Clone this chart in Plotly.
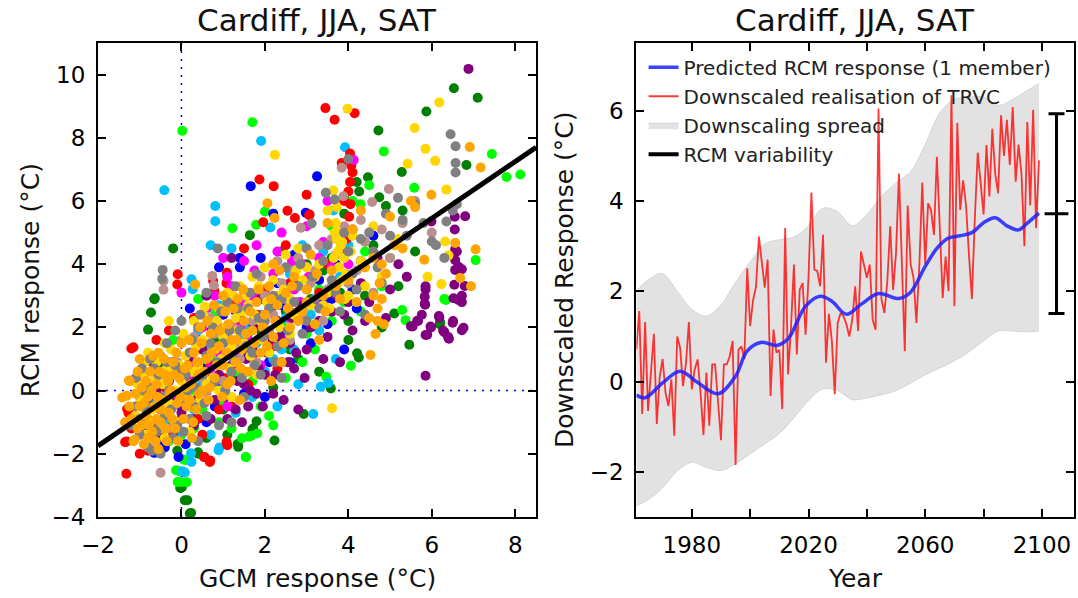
import plotly.graph_objects as go

# ---------------- left panel: GCM vs RCM response (one list of points per model) ----------------
orange_pts = [(-1.42,-0.22),(-1.31,-0.16),(-1.24,0.30),(-1.26,0.32),(-1.12,-1.55),(-1.15,-1.6),(-1.2,-0.9),(-1.05,-1.2),
    (-1.0,-0.5),(-0.95,0.1),(-0.9,-1.7),(-0.85,-0.8),(-0.8,-0.2),(-0.75,0.6),(-0.7,-1.3),(-0.65,-0.5),(-0.6,0.2),(-0.55,1.2),
    (-0.5,-1.0),(-0.45,-0.3),(-0.4,0.5),(-0.35,-1.6),(-0.3,-0.7),(-0.25,0.0),(-0.2,0.9),(-0.15,-1.2),(-0.1,-0.4),(-0.05,0.4),
    (0.0,1.5),(0.05,-0.9),(0.1,0.1),(0.15,0.8),(0.2,-0.3),(0.3,1.2),(0.35,-0.6),(0.4,0.5),(0.45,2.0),(0.5,0.0),(0.6,1.0),
    (0.65,-0.3),(0.7,1.8),(0.8,0.4),(0.9,1.4),(1.0,0.8),(1.05,2.5),(1.1,0.2),(1.2,1.6),(1.3,0.9),(1.35,2.9),(1.45,1.3),
    (1.5,2.2),(1.6,0.6),(1.7,1.9),(1.8,2.8),(1.9,1.2),(2.0,2.4),(2.1,3.3),(2.2,1.7),(2.3,2.7),(2.4,0.9),(2.5,3.1),(2.6,2.0),
    (2.7,3.6),(2.9,2.5),(3.0,3.2),(3.2,2.1),(3.4,3.0),(3.6,3.8),(3.8,2.9),(4.0,3.5),(4.2,2.8),(4.4,3.9),(4.5,2.3),(4.53,1.13),
    (4.65,1.79),(4.6,3.0),(4.7,2.6),(4.75,3.4),(4.8,4.0),(4.85,2.1),(4.9,3.7),(5.0,5.5),(5.1,4.6),(5.3,4.5),(5.5,6.0),(5.6,5.8),
    (5.82,4.14),(5.99,6.2),(6.56,4.67),(6.68,3.56),(6.94,3.3),(6.91,7.71),(7.05,4.47),(7.17,7.06),(2.06,5.93),(2.23,5.46),
    (0.33,3.36),(-0.55,-1.85),(0.25,-1.5),(1.4,-0.3),(2.15,0.3),(3.3,1.6),(4.1,5.1),(4.3,5.7),(2.2,4.0),(3.1,4.3),(3.5,5.3),
    (1.0,3.0),(-1.0,1.0),(-0.8,-1.5),(-0.6,-0.9),
    (-1.35,-1.0),(-1.25,-0.5),(-1.1,-0.1),(-1.05,0.6),(-0.95,-1.1),(-0.9,-0.4),(-0.85,0.3),(-0.78,-1.1),(-0.72,0.0),
    (-0.68,1.1),(-0.62,-1.6),(-0.58,-0.2),(-0.52,0.6),(-0.48,-0.6),(-0.42,1.0),(-0.38,-1.2),(-0.32,0.3),(-0.28,-0.1),
    (-0.22,-0.9),(-0.18,0.5),(-0.12,1.2),(-0.08,-1.6),(-0.02,-0.2),(0.08,0.7),(0.12,-0.5),(0.18,1.6),(0.22,0.2),(0.28,-1.0),
    (0.38,0.9),(0.42,-0.1),(0.48,1.5),(0.55,0.6),(0.62,2.2),(0.68,0.1),(0.72,1.2),(0.78,2.7),(0.85,0.8),(0.92,1.9),(0.98,-0.2),
    (1.08,1.2),(1.12,2.1),(1.18,0.3),(1.25,2.6),(1.32,1.6),(1.42,0.7),(1.48,3.2),(1.55,1.8),(1.65,2.5),(1.75,1.5),(1.85,3.2),
    (1.95,2.0),(2.05,1.4),(2.15,2.9),(2.25,2.2),(2.35,3.8),(2.45,1.5),(2.55,2.6),(2.65,3.3),(2.8,2.2),(3.0,2.8),(3.25,3.7),
    (3.45,2.5),(3.7,3.3),(4.6,4.2),(4.7,2.2),(4.8,2.9)]
gold_pts = [(-1.0,-0.4),(-0.9,0.5),(-0.85,-1.4),(-0.8,1.2),(-0.7,-0.6),(-0.6,0.9),(-0.5,-1.2),(-0.45,0.2),(-0.4,1.5),
    (-0.3,-0.4),(-0.2,0.6),(-0.1,-1.0),(0.0,0.3),(0.1,1.1),(0.2,-0.5),(0.3,2.2),(0.4,0.8),(0.5,1.6),(0.56,2.65),(0.6,0.2),
    (0.7,2.1),(0.8,1.3),(0.9,2.6),(1.0,1.7),(1.1,3.1),(1.15,0.7),(1.3,2.3),(1.4,3.3),(1.5,1.5),(1.6,2.7),(1.7,3.6),(1.9,2.2),
    (2.0,3.9),(2.1,1.2),(2.24,7.46),(2.3,3.0),(2.5,4.3),(2.7,2.4),(2.9,3.5),(3.1,2.7),(3.3,4.0),(3.5,3.1),(3.61,-0.56),
    (3.64,6.33),(3.7,5.3),(3.72,4.8),(3.75,4.4),(3.78,3.9),(3.8,5.0),(3.82,4.6),(3.85,3.5),(3.9,4.2),(3.92,2.9),(3.98,8.92),
    (4.0,3.0),(4.1,4.9),(4.3,4.1),(4.6,5.2),(4.8,3.6),(5.42,7.18),(5.59,8.31),(5.85,7.65),(6.08,7.27),(6.18,9.12),(6.35,6.36),
    (6.32,4.72),(6.23,3.37),(5.9,3.6),(6.4,4.28),(5.2,4.8),(3.5,5.7),(3.55,2.6),(4.4,3.3),(1.2,-0.2),(0.2,-1.3),(-0.3,2.2),
    (2.6,1.8),(1.8,0.5),(3.2,3.6),(2.8,4.5),
    (-1.1,-0.8),(-1.05,0.2),(-0.95,-0.3),(-0.88,0.9),(-0.75,-1.0),(-0.65,0.3),(-0.55,1.0),(-0.52,-0.4),(-0.4,-1.5),
    (-0.35,0.7),(-0.25,1.3),(-0.15,0.0),(-0.05,0.8),(0.05,1.8),(0.15,-0.2),(0.25,0.6),(0.35,1.4),(0.45,-0.3),(0.52,2.4),
    (0.65,1.1),(0.75,0.4),(0.85,2.2),(0.95,1.0),(1.05,2.0),(1.1,2.8),(1.2,1.4),(1.25,3.0),(1.35,1.9),(1.45,2.5),(1.55,3.0),
    (1.65,1.1),(1.75,2.4),(1.85,3.3),(1.95,1.6),(2.05,2.8),(2.2,3.5),(2.35,2.0),(2.45,3.2),(2.6,2.9),(2.75,3.8),(3.0,3.9),
    (3.4,2.7),(3.65,4.2),(3.75,3.4),(3.85,4.7),(3.95,3.7),(4.05,4.4),(3.68,5.0),(3.72,5.8),(0.9,0.0)]
gray_pts = [(-1.0,-0.9),(-0.9,0.0),(-0.8,-1.8),(-0.75,1.0),(-0.7,-0.5),(-0.6,-1.3),(-0.55,0.5),(-0.46,3.54),(-0.45,3.82),
    (-0.4,-0.8),(-0.35,1.5),(-0.3,0.0),(-0.2,-1.5),(-0.15,0.8),(-0.05,-0.3),(0.0,2.2),(0.1,0.5),(0.2,-0.9),(0.25,1.6),
    (0.35,0.1),(0.45,2.4),(0.55,-0.4),(0.6,1.1),(0.75,2.0),(0.8,0.3),(0.87,4.5),(0.9,-1.1),(1.0,1.5),(1.1,2.8),(1.2,0.6),
    (1.3,3.3),(1.4,1.9),(1.5,-0.2),(1.6,2.6),(1.7,1.2),(1.8,3.7),(1.9,0.5),(2.0,2.2),(2.2,3.0),(2.3,1.4),(2.5,3.9),(2.6,2.5),
    (2.8,3.3),(2.9,1.8),(3.0,4.5),(3.12,5.29),(3.2,2.9),(3.4,4.1),(3.46,6.26),(3.6,3.5),(3.67,6.05),(3.8,2.5),(4.0,7.33),
    (4.0,4.4),(4.2,3.2),(4.5,5.0),(4.7,3.9),(4.9,5.6),(5.19,6.1),(5.4,4.9),(5.6,5.9),(6.0,4.72),(6.1,4.6),(6.35,5.35),
    (6.45,8.11),(6.57,7.73),(6.57,7.2),(6.57,6.9),(6.3,4.2),(6.5,5.7),(6.6,5.9),(5.8,5.3),(4.4,2.4),(-0.5,-2.0),(0.4,-1.6),
    (1.2,-1.0),(2.4,0.4),(-1.1,-0.5),(0.6,3.1),
    (-1.2,-1.1),(-1.1,0.4),(-1.0,-1.4),(-0.95,0.7),(-0.85,-0.6),(-0.75,0.1),(-0.7,-1.9),(-0.65,0.7),(-0.55,-1.0),
    (-0.45,-0.2),(-0.35,0.9),(-0.25,-0.6),(-0.15,1.9),(-0.1,-1.1),(0.0,0.6),(0.05,-1.3),(0.15,0.0),(0.2,1.2),(0.3,-0.5),
    (0.4,2.0),(0.5,0.5),(0.6,-0.8),(0.7,1.5),(0.85,0.9),(0.95,2.5),(1.05,0.0),(1.15,1.9),(1.25,1.0),(1.35,2.6),(1.45,0.4),
    (1.55,1.4),(1.65,3.1),(1.75,0.8),(1.85,2.3),(1.95,1.7),(2.1,2.6),(2.25,0.9),(2.4,2.9),(2.55,1.9),(2.7,2.8),(2.85,4.0),
    (3.0,2.2),(3.15,3.6),(3.3,2.6),(3.5,4.6),(3.7,3.1),(3.9,5.0),(4.1,3.7),(4.3,4.8),(4.6,4.4),(4.8,3.4),(5.0,4.9),(5.3,5.4)]
purple_pts = [(-0.5,-1.4),(-0.3,0.3),(0.0,-0.7),(0.2,1.0),(0.4,-0.2),(0.6,0.6),(0.8,-0.3),(1.0,1.9),(1.1,-0.9),(1.2,0.8),
    (1.3,-0.6),(1.4,2.3),(1.5,0.2),(1.6,-0.5),(1.7,1.3),(1.8,-0.1),(1.9,2.9),(2.0,0.5),(2.1,1.6),(2.2,-0.1),(2.3,2.2),
    (2.4,0.9),(2.5,3.3),(2.6,1.5),(2.7,0.7),(2.9,2.7),(3.0,1.3),(3.2,3.6),(3.3,2.2),(3.5,1.7),(3.7,3.0),(3.8,0.9),(3.9,2.4),
    (4.1,1.9),(4.3,3.4),(4.5,2.8),(4.7,4.2),(5.5,2.04),(5.54,2.03),(5.65,2.21),(5.67,2.2),(5.76,2.4),(5.83,2.75),(5.83,2.97),
    (5.84,2.72),(5.85,3.3),(5.85,3.2),(5.85,1.76),(5.85,0.47),(5.89,1.77),(5.97,2.03),(5.98,2.0),(5.99,5.35),(6.17,2.36),
    (6.18,2.31),(6.27,1.9),(6.3,1.85),(6.39,1.7),(6.41,1.64),(6.5,2.15),(6.51,2.2),(6.52,2.92),(6.54,3.35),(6.55,5.5),
    (6.55,5.1),(6.56,4.47),(6.56,4.13),(6.56,3.82),(6.6,4.4),(6.64,3.92),(6.64,2.87),(6.72,3.84),(6.72,3.0),(6.72,2.8),
    (6.72,1.91),(6.76,1.99),(6.79,3.31),(6.8,5.52),(6.88,10.18),(5.2,4.0),(4.9,2.3),(1.2,4.2),(0.6,3.0),(2.8,-0.6),
    (-0.8,-1.0),(-0.6,0.0),(-0.2,-0.4),(0.1,0.2),(0.3,-1.1),(0.5,1.3),(0.7,-0.9),(0.9,0.5),(1.05,-0.2),(1.15,1.5),(1.35,0.3),
    (1.45,-1.0),(1.55,1.0),(1.65,0.0),(1.75,2.0),(1.85,0.7),(1.95,-0.5),(2.05,1.2),(2.15,2.6),(2.25,0.5),(2.35,1.7),
    (2.45,-0.3),(2.55,0.9),(2.65,2.3),(2.75,1.2),(2.95,0.4),(3.1,2.0),(3.4,1.0),(3.6,2.5),(4.0,2.8),(4.4,2.2),(5.0,3.2),
    (5.4,3.6)]
lime_pts = [(0.02,8.22),(1.70,8.49),(2.0,5.67),(1.79,5.25),(1.22,5.14),(4.85,7.57),(7.44,7.49),(7.79,6.76),(8.12,6.84),
    (5.58,6.42),(4.5,6.5),(4.29,5.9),(-0.13,-2.52),(-0.09,-2.89),(0.0,-2.89),(0.13,-2.9),(-0.05,-2.55),(0.1,-2.2),(0.05,-2.18),
    (1.54,-2.1),(1.55,-2.11),(1.45,-1.51),(1.62,-1.46),(1.82,-1.36),(1.67,-1.43),(3.47,0.44),(4.06,0.79),(5.29,2.55),
    (5.37,2.23),(6.3,2.9),(6.34,2.87),(7.05,4.13),(0.3,-1.2),(0.6,0.8),(1.0,-0.4),(-0.6,-1.1),(-0.2,1.6),(0.8,2.5),(1.3,1.0),
    (2.1,-0.8),(2.4,2.1),(2.7,3.9),(3.2,1.3),(3.9,2.8),(4.4,4.4),(1.1,3.6),(0.4,2.9),(-0.4,0.6),(2.9,0.9),(3.6,5.2),(4.1,6.0),
    (2.2,-1.1),(1.7,0.3),(0.9,-1.0),
    (-0.3,-1.6),(0.0,-1.4),(0.2,0.0),(0.5,-0.6),(0.7,1.1),(0.9,0.2),(1.2,-1.2),(1.4,0.5),(1.6,1.8),(1.9,-0.5),(2.2,1.4),
    (2.5,0.4),(2.8,2.8),(3.0,1.8),(3.3,3.2),(3.6,2.2),(4.0,3.6),(4.3,2.5),(4.8,3.3),(5.0,4.2)]
darkgreen_pts = [(-0.2,4.5),(-0.64,2.92),(-0.65,2.89),(-0.73,2.47),(-0.8,1.93),(1.64,4.92),(4.72,8.23),(5.87,8.83),
    (6.53,9.57),(7.1,9.27),(6.83,7.14),(5.28,6.92),(4.47,6.75),(4.2,6.6),(4.26,6.3),(4.74,6.12),(4.9,5.84),(5.46,1.45),
    (4.21,1.18),(4.25,1.05),(6.2,2.15),(6.19,2.1),(5.1,2.44),(2.93,-0.74),(3.58,0.07),(2.23,-1.58),(1.8,-0.97),(1.7,-1.23),
    (1.72,-1.2),(1.35,-1.69),(1.36,-1.78),(0.4,-2.0),(0.4,-1.95),(0.01,-3.06),(-0.03,-3.08),(0.14,-3.47),(0.08,-3.47),
    (0.2,-3.89),(0.23,-3.87),(3.9,5.6),(3.95,6.0),(3.4,3.8),(2.6,1.3),(1.2,0.4),(0.5,1.3),(-0.3,-0.9),(2.0,2.9),(3.0,4.0),
    (3.8,3.1),(4.6,4.6),(5.3,5.7),(2.4,4.4),(1.0,-0.6),(4.0,2.2),
    (-0.5,0.8),(-0.1,-1.9),(0.3,0.4),(0.6,-1.5),(0.8,1.6),(1.1,-1.4),(1.3,2.0),(1.5,0.6),(1.9,1.9),(2.2,0.1),(2.5,2.5),
    (2.8,1.0),(3.1,2.9),(3.3,0.6),(3.6,4.2),(4.0,1.6),(4.4,3.0),(4.8,2.0),(5.2,3.3),(5.6,4.4)]
red_pts = [(-1.32,-2.63),(-1.35,-1.63),(-1.31,-1.61),(-1.3,-0.58),(-1.27,-0.7),(-1.2,1.33),(-1.15,1.37),(-1.14,0.32),
    (-1.09,0.32),(-1.29,-0.58),(-0.9,-0.3),(-0.7,0.9),(-0.5,-0.6),(-0.3,1.9),(-0.1,3.36),(-0.09,3.68),(0.2,1.2),(0.4,-0.9),
    (0.54,-2.1),(0.55,-2.1),(0.68,-2.26),(0.69,-2.21),(0.76,3.47),(0.79,3.15),(1.08,3.4),(1.09,3.73),(1.08,-1.63),(1.1,-1.73),
    (1.0,0.4),(1.4,2.2),(1.87,6.68),(2.21,6.47),(1.96,5.33),(2.54,5.69),(2.72,5.46),(3.07,5.57),(3.06,5.55),(3.45,8.94),
    (3.67,8.57),(4.15,8.78),(4.04,7.5),(3.84,7.2),(4.07,7.12),(4.1,6.9),(4.04,6.6),(4.0,6.3),(4.05,5.9),(4.02,5.5),(4.1,5.1),
    (3.95,4.8),(2.0,3.2),(2.5,4.6),(2.8,2.5),(3.3,3.1),(1.7,1.1),(2.3,0.7),(0.0,-0.9),(-0.8,-1.9),(1.5,4.5),(3.0,6.2),
    (-1.2,-1.2),(-1.0,-2.0),(-0.95,0.6),(-0.7,-1.0),(-0.6,1.6),(-0.4,0.1),(-0.2,-1.4),(0.1,-0.2),(0.3,2.3),(0.5,-1.4),
    (0.7,0.8),(0.9,-0.6),(1.2,-0.5),(1.3,2.8),(1.6,0.2),(1.8,2.4),(2.2,1.4),(2.6,3.4),(3.5,4.0),(3.9,6.0)]
blue_pts = [(1.66,6.47),(3.25,6.78),(2.98,5.63),(-0.65,-1.97),(-0.07,-2.1),(-0.5,-1.6),(0.1,-1.7),(0.3,-0.9),(0.5,0.7),
    (0.8,-0.5),(1.0,2.4),(1.2,1.2),(1.4,3.9),(1.5,-0.1),(1.7,2.0),(1.9,4.2),(2.1,0.9),(2.3,3.4),(2.5,1.8),(2.7,4.3),(2.9,2.6),
    (3.1,1.5),(3.3,3.5),(3.5,2.1),(3.7,4.0),(3.9,1.3),(4.1,3.2),(4.3,4.1),(4.6,4.9),(2.2,5.6),(0.9,3.9),(1.4,4.2),(-0.3,0.4),
    (0.2,2.6),(2.0,-0.2),(1.1,1.6),(3.6,2.9),
    (-0.9,-1.2),(-0.7,-0.3),(-0.4,-1.8),(-0.2,0.9),(0.0,-0.5),(0.4,1.6),(0.6,-1.0),(0.7,2.0),(0.9,0.3),(1.1,3.0),(1.3,2.5),
    (1.6,1.1),(1.8,3.0),(2.0,1.6),(2.4,2.7),(2.6,0.9),(2.8,3.4),(3.0,2.0),(3.4,2.8),(3.8,3.5),(4.2,2.6)]
skyblue_pts = [(-0.41,6.34),(1.91,7.9),(0.81,5.84),(0.81,5.36),(2.13,5.16),(0.7,4.6),(3.92,7.7),(3.64,5.7),(0.24,3.52),
    (0.27,3.21),(3.34,0.12),(3.52,0.24),(3.16,-0.74),(0.91,-1.8),(0.89,-1.89),(0.23,-1.98),(0.24,-2.26),(0.08,-2.59),
    (0.02,-2.55),(0.5,0.3),(1.0,1.1),(1.3,-0.7),(1.6,3.0),(1.8,1.5),(2.1,2.8),(2.4,1.3),(2.6,3.7),(2.9,4.6),(3.1,2.4),
    (3.4,4.4),(3.8,3.6),(4.0,4.6),(1.2,4.5),(0.4,1.9),(-0.4,-0.9),(2.0,0.6),(2.8,0.2),(1.5,2.0),
    (-0.6,-0.4),(-0.3,0.9),(-0.1,-1.4),(0.1,0.5),(0.3,-0.6),(0.6,1.4),(0.7,-1.4),(0.9,2.7),(1.1,0.4),(1.4,1.6),(1.7,-0.2),
    (1.9,2.4),(2.2,1.0),(2.5,2.3),(2.7,1.3),(3.0,3.2),(3.3,1.9),(3.6,3.3),(3.7,1.0),(2.3,-0.5)]
magenta_pts = [(4.13,7.3),(0.5,2.0),(0.8,3.0),(1.0,4.2),(1.2,3.3),(1.4,2.0),(1.5,4.1),(1.7,3.0),(1.8,4.6),(2.0,2.4),
    (2.2,3.7),(2.4,5.0),(2.5,1.6),(2.7,3.2),(2.9,4.0),(3.0,5.2),(3.2,2.8),(3.4,4.7),(3.6,3.9),(3.8,4.9),(4.0,4.0),(0.3,0.7),
    (-0.1,-0.2),(0.9,1.2),(1.9,0.8),(2.6,2.3),(3.5,6.0),(0.0,3.1),(1.1,-0.5),
    (0.2,0.3),(0.4,1.4),(0.6,2.6),(0.7,0.7),(0.9,2.0),(1.1,3.6),(1.3,1.2),(1.45,2.8),(1.6,1.6),(1.75,3.8),(1.95,2.9),
    (2.1,1.7),(2.3,4.4),(2.45,3.0),(2.65,4.1),(2.85,2.8),(3.05,3.6),(3.3,4.2),(3.55,3.2),(3.9,4.4)]
rosybrown_pts = [(-0.43,3.19),(-0.43,3.47),(-0.5,-2.6),(0.74,3.63),(0.78,3.33),(3.84,7.05),(3.88,6.15),(4.57,5.97),
    (4.97,6.38),(2.86,5.15),(-0.8,-0.9),(-0.6,0.4),(-0.3,-1.2),(-0.1,0.9),(0.1,-0.4),(0.3,1.7),(0.5,0.4),(0.7,2.3),(0.9,0.9),
    (1.1,2.7),(1.3,1.5),(1.5,3.1),(1.7,2.2),(1.9,3.6),(2.1,1.9),(2.3,4.1),(2.5,2.9),(2.7,3.8),(2.9,2.3),(3.1,3.4),(3.3,4.6),
    (3.5,3.2),(3.7,4.3),(3.9,5.2),(4.2,3.8),(4.4,4.7),(4.6,3.1),(4.8,5.1),(5.0,4.2),(5.3,5.3),(5.6,6.0),(6.0,5.0),
    (-1.0,-0.2),(-0.7,-1.5),(-0.5,1.1),(-0.2,-0.5),(0.0,1.6),(0.2,-0.9),(0.4,0.9),(0.6,-0.1),(0.8,1.8),(1.0,0.3),(1.2,2.1),
    (1.4,1.0),(1.6,2.6),(1.8,0.9),(2.0,3.0),(2.2,2.4),(2.4,3.4),(2.6,1.6),(2.8,4.2),(3.0,2.7),(3.2,3.8),(3.4,2.2),(3.6,4.8),
    (4.0,3.4),(4.3,5.4)]

# drawing order (later models on top) and their colours
models = [
    (darkgreen_pts, "#008000"), (lime_pts, "#00ff00"), (blue_pts, "#0000ff"), (skyblue_pts, "#00bfff"),
    (red_pts, "#ff0000"), (magenta_pts, "#ff00ff"), (purple_pts, "#800080"), (rosybrown_pts, "#bc8f8f"),
    (gold_pts, "#ffd700"), (gray_pts, "#808080"), (orange_pts, "#ffa500"),
]

# least-squares line through the cloud
fit_x = [-2.0, 8.5]
fit_y = [-1.75, 7.7]
zero_level = 0.0

# ---------------- right panel: downscaled time series ----------------
years = list(range(1961, 2100))
trvc = [0.71, 1.56, -0.72, 1.32, -0.65, 0.30, 1.06, -0.94, 0.10, 0.50,
        -0.25, -0.54, 0.05, -1.20, 1.00, 0.75, -0.10, 0.40, 1.32, -0.17,
        0.27, 0.49, -0.25, -1.18, 0.20, -0.98, 0.38, 0.38, -0.40, -1.30,
        0.38, 0.38, 0.56, 0.90, -1.85, 0.71, 0.78, 0.50, 2.51, 1.23,
        1.80, 2.10, 3.21, 2.70, 2.08, 2.70, -0.32, 1.15, 0.64, 0.70,
        -0.61, 3.40, 0.16, 1.20, 2.59, 0.60, 2.04, 2.18, 1.04, 2.30,
        4.19, 2.48, 2.45, 2.11, 3.25, 0.42, 1.50, 0.90, -0.28, 1.30,
        1.52, 1.45, 1.27, 1.00, 1.37, 2.11, 1.12, 2.88, 2.59, 2.30,
        2.59, 1.37, 1.15, 6.05, 1.82, 1.52, 2.20, 3.44, 2.03, 2.85,
        4.61, 2.70, 0.67, 3.90, 2.60, 2.30, 1.30, 2.60, 4.41, 2.60,
        3.95, 3.80, 3.25, 4.98, 3.50, 1.85, 2.77, 2.00, 6.34, 1.67,
        5.73, 3.80, 4.46, 3.90, 2.80, 1.83, 3.60, 5.07, 4.40, 3.70,
        5.24, 4.10, 5.60, 4.60, 4.17, 5.90, 5.00, 5.80, 4.80, 6.08,
        4.43, 5.25, 4.60, 3.00, 5.75, 3.90, 6.02, 3.40, 4.90]

pred_years = [1961, 1964, 1970, 1976, 1982, 1989, 1995, 1999, 2004, 2009, 2013, 2019, 2024, 2028, 2033,
              2038, 2044, 2051, 2055, 2060, 2064, 2068, 2072, 2076, 2080, 2084, 2088, 2092, 2095, 2099]
pred_rcm = [-0.30, -0.36, -0.03, 0.23, -0.02, -0.27, 0.12, 0.68, 0.87, 0.80, 0.95, 1.67, 1.89, 1.78, 1.49,
            1.71, 1.95, 1.84, 1.98, 2.55, 2.95, 3.18, 3.23, 3.30, 3.52, 3.63, 3.45, 3.36, 3.51, 3.73]

spread_years = [1961, 1965, 1970, 1975, 1980, 1985, 1990, 1995, 2000, 2005, 2010, 2015, 2020, 2025, 2030,
                2035, 2040, 2045, 2050, 2055, 2060, 2065, 2070, 2075, 2080, 2085, 2090, 2095, 2099]
spread_hi = [2.00, 2.25, 2.39, 2.00, 1.60, 1.45, 1.70, 2.20, 2.65, 3.05, 3.14, 3.20, 3.45, 3.84, 3.76,
             3.45, 3.70, 4.10, 4.40, 4.65, 5.25, 5.95, 6.25, 6.30, 6.30, 6.12, 6.25, 6.45, 6.60]
spread_lo = [-2.75, -2.62, -2.35, -1.98, -1.79, -1.90, -1.97, -1.82, -1.60, -1.38, -1.15, -0.80, -0.42, -0.16, -0.20,
             -0.40, -0.36, -0.29, -0.20, -0.03, 0.15, 0.30, 0.46, 0.66, 0.90, 1.12, 1.12, 1.10, 1.12]

var_year = [2105]
var_centre = [3.72]
var_half = [2.21]

FONT = "DejaVu Sans"
fig = go.Figure()

for pts, col in models:
    fig.add_trace(go.Scatter(
        x=[p[0] for p in pts], y=[p[1] for p in pts], mode="markers",
        marker=dict(size=10, color=col, line=dict(width=0)),
        showlegend=False, xaxis="x", yaxis="y", hoverinfo="skip"))

fig.add_trace(go.Scatter(x=fit_x, y=fit_y, mode="lines", line=dict(color="black", width=5),
                         showlegend=False, xaxis="x", yaxis="y"))

# spread band (lower edge, then upper edge filled down to it)
fig.add_trace(go.Scatter(x=spread_years, y=spread_lo, mode="lines",
                         line=dict(color="#d4d4d4", width=1, shape="spline", smoothing=1.0),
                         showlegend=False, xaxis="x2", yaxis="y2", hoverinfo="skip"))
fig.add_trace(go.Scatter(x=spread_years, y=spread_hi, mode="lines", fill="tonexty",
                         fillcolor="#e2e2e2",
                         line=dict(color="#d4d4d4", width=1, shape="spline", smoothing=1.0),
                         name="Downscaling spread", legendrank=3, xaxis="x2", yaxis="y2"))
fig.add_trace(go.Scatter(x=years, y=trvc, mode="lines",
                         line=dict(color="rgba(255,0,0,0.78)", width=1.8),
                         name="Downscaled realisation of TRVC", legendrank=2, xaxis="x2", yaxis="y2"))
fig.add_trace(go.Scatter(x=pred_years, y=pred_rcm, mode="lines",
                         line=dict(color="rgba(30,30,255,0.85)", width=3.5, shape="spline", smoothing=1.0),
                         name="Predicted RCM response (1 member)", legendrank=1, xaxis="x2", yaxis="y2"))
fig.add_trace(go.Scatter(x=var_year, y=var_centre, mode="markers",
                         marker=dict(symbol="line-ew", size=17, color="black", line=dict(color="black", width=3)),
                         error_y=dict(type="data", array=var_half, visible=True, color="black", thickness=3, width=8),
                         showlegend=False, xaxis="x2", yaxis="y2"))
fig.add_trace(go.Scatter(x=[None], y=[None], mode="lines", line=dict(color="black", width=4),
                         name="RCM variability", legendrank=4, xaxis="x2", yaxis="y2"))

axis_common = dict(showline=True, linecolor="black", linewidth=2, mirror="ticks", ticks="inside",
                   ticklen=8, tickwidth=1.5, tickcolor="black", showgrid=False, zeroline=False,
                   tickfont=dict(family=FONT, size=23, color="black"), ticklabelstandoff=6)

fig.update_layout(
    width=1078, height=598,
    margin=dict(l=98, r=2, t=43, b=81),
    paper_bgcolor="white", plot_bgcolor="white",
    font=dict(family=FONT, color="black"),
    xaxis=dict(domain=[0, 0.4489], range=[-2, 8.5], tickvals=[-2, 0, 2, 4, 6, 8], anchor="y", **axis_common),
    yaxis=dict(domain=[0, 1], range=[-4, 11], tickvals=[-4, -2, 0, 2, 4, 6, 8, 10], anchor="x", **axis_common),
    xaxis2=dict(domain=[0.5516, 1], range=[1961, 2111], tickvals=[1980, 2000, 2020, 2040, 2060, 2080, 2100],
                ticktext=["1980", "", "2020", "", "2060", "", "2100"], anchor="y2", **axis_common),
    yaxis2=dict(domain=[0, 1], range=[-3, 7.5], tickvals=[-2, 0, 2, 4, 6], anchor="x2", **axis_common),
    legend=dict(x=0.559, y=0.99, xanchor="left", yanchor="top", bgcolor="rgba(0,0,0,0)",
                font=dict(family=FONT, size=20, color="#222222"), traceorder="normal"),
    shapes=[
        dict(type="line", xref="x", yref="y domain", x0=zero_level, x1=zero_level, y0=0, y1=1,
             line=dict(color="blue", width=1.5, dash="2px,6px"), layer="below"),
        dict(type="line", xref="x domain", yref="y", x0=0, x1=1, y0=zero_level, y1=zero_level,
             line=dict(color="blue", width=1.5, dash="2px,6px"), layer="below"),
    ],
    annotations=[
        dict(text="Cardiff, JJA, SAT", xref="paper", yref="paper", x=0.2245, y=1.0485, showarrow=False,
             xanchor="center", yanchor="middle", font=dict(family=FONT, size=31, color="#111111")),
        dict(text="Cardiff, JJA, SAT", xref="paper", yref="paper", x=0.7758, y=1.0485, showarrow=False,
             xanchor="center", yanchor="middle", font=dict(family=FONT, size=31, color="#111111")),
        dict(text="GCM response (°C)", xref="paper", yref="paper", x=0.2245, y=-0.129, showarrow=False,
             xanchor="center", yanchor="middle", font=dict(family=FONT, size=25, color="#111111")),
        dict(text="Year", xref="paper", yref="paper", x=0.7758, y=-0.129, showarrow=False,
             xanchor="center", yanchor="middle", font=dict(family=FONT, size=25, color="#111111")),
        dict(text="RCM response (°C)", xref="paper", yref="paper", x=-0.0695, y=0.5, showarrow=False,
             textangle=-90, xanchor="center", yanchor="middle", font=dict(family=FONT, size=25, color="#111111")),
        dict(text="Downscaled Response (°C)", xref="paper", yref="paper", x=0.4775, y=0.5, showarrow=False,
             textangle=-90, xanchor="center", yanchor="middle", font=dict(family=FONT, size=25, color="#111111")),
    ],
)

fig.write_html("out.html")
